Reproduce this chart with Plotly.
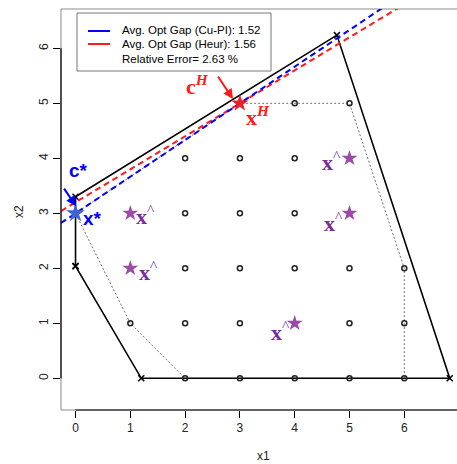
import plotly.graph_objects as go

# ---------------- data ----------------
# LP relaxation polygon (solid black), vertices marked with x
hull_x = [0, 0, 4.77, 6.83, 1.2, 0]
hull_y = [2.04, 3.3, 6.24, 0, 0, 2.04]
# integer hull (dotted grey)
int_hull_x = [0, 3, 5, 6, 6, 2, 1, 0]
int_hull_y = [3, 5, 5, 2, 0, 0, 1, 3]
# feasible integer points (open circles)
pts_x = [2, 3, 4, 5, 6, 1, 2, 3, 5, 6, 2, 3, 4, 5, 6, 2, 3, 4, 2, 3, 4, 4, 5]
pts_y = [0, 0, 0, 0, 0, 1, 1, 1, 1, 1, 2, 2, 2, 2, 2, 3, 3, 3, 4, 4, 4, 5, 5]
# optimal solutions
xstar = (0, 3)
xH = (3, 5)
xhat_x = [1, 1, 4, 5, 5]
xhat_y = [3, 2, 1, 4, 3]
# objective contour lines: intercept, slope
cupi_line = (3.0, 2 / 3)
heur_line = (3.2, 0.6)
legend_texts = ["Avg. Opt Gap (Cu-PI): 1.52", "Avg. Opt Gap (Heur): 1.56", "Relative Error= 2.63 %"]
x_ticks = [0, 1, 2, 3, 4, 5, 6, 7]
y_ticks = [0, 1, 2, 3, 4, 5, 6]

# ---------------- layout constants ----------------
W, H = 457, 464
ML, MR, MT, MB = 61, 0, 9, 54
XR = [-0.265, 6.962]
YR = [-0.576, 6.715]
pw, ph = W - ML - MR, H - MT - MB

def px2paper(px, py):
    return (px - ML) / pw, (H - MB - py) / ph

BLUE = "#0000ff"
RED = "#ff1a1a"
PURPLE_STAR = "#9b4aa6"
PURPLE_TXT = "#7b2c9c"
STAR_BLUE = "#3f62d6"

fig = go.Figure()

# integer hull dotted
fig.add_trace(go.Scatter(x=int_hull_x, y=int_hull_y, mode="lines",
                         line=dict(color="#707070", width=1, dash="2px,2px"),
                         hoverinfo="skip", showlegend=False))
# LP polygon
fig.add_trace(go.Scatter(x=hull_x, y=hull_y, mode="lines+markers",
                         line=dict(color="black", width=1.6),
                         marker=dict(symbol="x-thin", size=6, line=dict(color="black", width=1.5)),
                         hoverinfo="skip", showlegend=False))
# integer points
fig.add_trace(go.Scatter(x=pts_x, y=pts_y, mode="markers",
                         marker=dict(symbol="circle-open", size=5, color="#222", line=dict(width=1.5)),
                         hoverinfo="skip", showlegend=False))

# contour lines
for (b, m), col in [(heur_line, RED), (cupi_line, BLUE)]:
    lx = [XR[0], XR[1]]
    ly = [b + m * v for v in lx]
    fig.add_trace(go.Scatter(x=lx, y=ly, mode="lines",
                             line=dict(color=col, width=2, dash="6px,4px"),
                             hoverinfo="skip", showlegend=False))

# stars
fig.add_trace(go.Scatter(x=xhat_x, y=xhat_y, mode="markers",
                         marker=dict(symbol="star", size=12, color=PURPLE_STAR),
                         hoverinfo="skip", showlegend=False))
fig.add_trace(go.Scatter(x=[xH[0]], y=[xH[1]], mode="markers",
                         marker=dict(symbol="star", size=13, color="#e8202a"),
                         hoverinfo="skip", showlegend=False))
fig.add_trace(go.Scatter(x=[xstar[0]], y=[xstar[1]], mode="markers",
                         marker=dict(symbol="star", size=14, color=STAR_BLUE),
                         hoverinfo="skip", showlegend=False))

ann = []
SERIF = "Liberation Serif"
SANS = "Liberation Sans"
# labels (text, point, xshift, yshift, color, font)
labels = [
    ("<b>c*</b>", xstar, 3, 43, BLUE, SANS, 19),
    ("<b>x*</b>", xstar, 17, -5, BLUE, SANS, 19),
    ("<b>c</b><sup><b><i>H</i></b></sup>", xH, -42, 18, RED, SERIF, 22),
    ("<b>x</b><sup><b><i>H</i></b></sup>", xH, 18, -13, RED, SERIF, 22),
]
hat_offsets = [(15, -2), (18, -3), (-14, -8), (-18, -3), (-16, -9)]
for (hx, hy), (dx, dy) in zip(zip(xhat_x, xhat_y), hat_offsets):
    labels.append(("<b>x</b><sup>^</sup>", (hx, hy), dx, dy, PURPLE_TXT, SERIF, 22))
for t, (px_, py_), dx, dy, col, fam, fs in labels:
    ann.append(dict(x=px_, y=py_, xref="x", yref="y", text=t, showarrow=False,
                    xshift=dx, yshift=dy, font=dict(color=col, family=fam, size=fs)))

# arrows
ann.append(dict(x=0.01, y=3.13, xref="x", yref="y", text="", showarrow=True,
                ax=-13, ay=-19, axref="pixel", ayref="pixel",
                arrowhead=2, arrowsize=1, arrowwidth=2, arrowcolor=BLUE))
ann.append(dict(x=2.874, y=5.078, xref="x", yref="y", text="", showarrow=True,
                ax=-16, ay=-24, axref="pixel", ayref="pixel",
                arrowhead=2, arrowsize=1, arrowwidth=2, arrowcolor=RED))

# legend texts
for t, py in zip(legend_texts, [30, 44, 58.5]):
    xp, yp = px2paper(120, py)
    ann.append(dict(x=xp, y=yp, xref="paper", yref="paper", text=t, showarrow=False,
                    xanchor="left", yanchor="middle",
                    font=dict(color="black", family=SANS, size=11.5)))

# axis titles
xp, yp = px2paper(263, 456)
ann.append(dict(x=xp, y=yp, xref="paper", yref="paper", text="x1", showarrow=False,
                yanchor="middle", font=dict(color="#222", family=SANS, size=12)))
xp, yp = px2paper(19, 212)
ann.append(dict(x=xp, y=yp, xref="paper", yref="paper", text="x2", showarrow=False,
                xanchor="center", yanchor="middle", textangle=-90,
                font=dict(color="#222", family=SANS, size=12)))

shapes = []
# plot box
shapes.append(dict(type="rect", xref="paper", yref="paper", x0=0, x1=1.01, y0=0, y1=1,
                   line=dict(color="#8a8a8a", width=1), layer="below"))
# axis lines
shapes.append(dict(type="line", xref="x", yref="paper", x0=0, x1=7, y0=0, y1=0,
                   line=dict(color="black", width=1.2)))
shapes.append(dict(type="line", xref="paper", yref="y", x0=0, x1=0, y0=0, y1=6,
                   line=dict(color="black", width=1.2)))
# legend box
x0, y1 = px2paper(77, 13)
x1, y0 = px2paper(271, 71)
shapes.append(dict(type="rect", xref="paper", yref="paper", x0=x0, x1=x1, y0=y0, y1=y1,
                   line=dict(color="#777", width=1), fillcolor="white", layer="above"))
for py, col in [(31, BLUE), (44, RED)]:
    a, b = px2paper(88, py)
    c, _ = px2paper(110, py)
    shapes.append(dict(type="line", xref="paper", yref="paper", x0=a, x1=c, y0=b, y1=b,
                       line=dict(color=col, width=2), layer="above"))

fig.update_layout(
    width=W, height=H,
    margin=dict(l=ML, r=MR, t=MT, b=MB),
    paper_bgcolor="white", plot_bgcolor="white",
    showlegend=False,
    annotations=ann, shapes=shapes,
    xaxis=dict(range=XR, tickvals=x_ticks, ticks="outside", ticklen=7, tickwidth=1,
               tickcolor="black", showgrid=False, zeroline=False, showline=False,
               tickfont=dict(family=SANS, size=12, color="#222")),
    yaxis=dict(range=YR, tickvals=y_ticks, ticks="outside", ticklen=7, tickwidth=1,
               tickcolor="black", showgrid=False, zeroline=False, showline=False,
               tickangle=-90,
               tickfont=dict(family=SANS, size=12, color="#222")),
)

fig.write_html("out.html")
